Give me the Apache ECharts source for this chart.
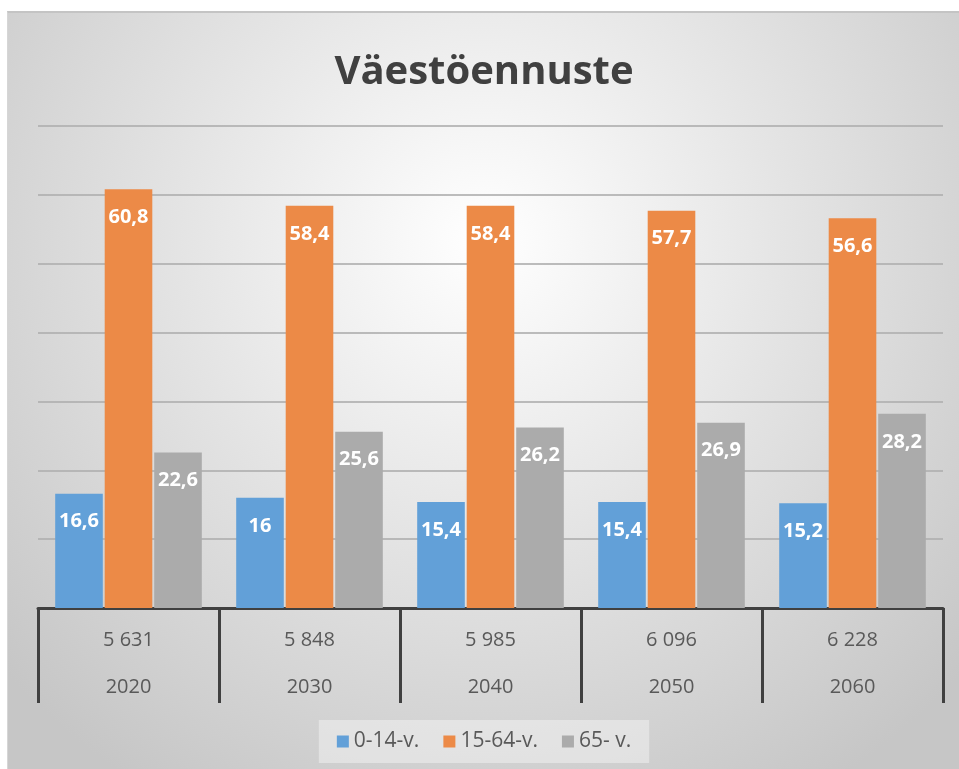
<!DOCTYPE html>
<html>
<head>
<meta charset="utf-8">
<script src="https://cdn.jsdelivr.net/npm/echarts@6/dist/echarts.min.js"></script>
<style>
  html, body { margin: 0; padding: 0; background: #fff; }
  #wrap { position: absolute; left: 7px; top: 11px; width: 952px; height: 758px;
          border-top: 2px solid #c4c4c4; border-left: 1px solid #d6d6d6; }
  #chart { width: 952px; height: 758px; }
</style>
</head>
<body>
<div id="wrap"><div id="chart"></div></div>
<script>
// population (thousands) shown on first axis row, years on second row
const populations = ['5 631', '5 848', '5 985', '6 096', '6 228'];
const years = ['2020', '2030', '2040', '2050', '2060'];
const seriesNames = ['0-14-v.', '15-64-v.', '65- v.'];
const age0to14 = [16.6, 16, 15.4, 15.4, 15.2];
const age15to64 = [60.8, 58.4, 58.4, 57.7, 56.6];
const age65plus = [22.6, 25.6, 26.2, 26.9, 28.2];
const colors = ['#62A0D8', '#EC8A47', '#ABABAB'];

const FONT = '"Open Sans", "Noto Sans", sans-serif';

function fmt(v) {
    return String(v).replace('.', ',');
}

function makeSeries(name, data, color) {
    return {
        name: name,
        type: 'bar',
        data: data,
        barGap: '4%',
        barCategoryGap: '19%',
        itemStyle: { color: color },
        label: {
            show: true,
            position: 'insideTop',
            distance: 18,
            color: '#fff',
            fontFamily: FONT,
            fontWeight: 'bold',
            fontSize: 20,
            formatter: function (p) { return fmt(p.value); }
        }
    };
}

let chart = echarts.init(document.getElementById('chart'));
let option = {
    backgroundColor: {
        type: 'radial', x: 0.5, y: 0.3, r: 0.85,
        colorStops: [
            { offset: 0, color: '#ffffff' },
            { offset: 1, color: '#c6c6c6' }
        ]
    },
    animation: false,
    color: colors,
    title: {
        text: 'Väestöennuste',
        left: 'center',
        top: 35,
        textStyle: { fontFamily: FONT, fontSize: 40, fontWeight: 'bold', color: '#404040' }
    },
    legend: {
        bottom: 8,
        left: 'center',
        itemWidth: 12,
        itemHeight: 12,
        itemGap: 24,
        padding: [11, 18, 11, 18],
        backgroundColor: 'rgba(240,240,240,0.55)',
        icon: 'rect',
        textStyle: { fontFamily: FONT, fontSize: 21, color: '#595959' },
        data: seriesNames
    },
    grid: { left: 30, right: 17, top: 113, bottom: 163 },
    xAxis: [
        {
            type: 'category',
            data: populations,
            position: 'bottom',
            axisLine: { show: true, lineStyle: { color: '#404040', width: 3 } },
            axisTick: { show: true, length: 95, lineStyle: { color: '#404040', width: 3 } },
            axisLabel: { margin: 22, fontFamily: FONT, fontSize: 20, color: '#595959' }
        },
        {
            type: 'category',
            data: years,
            position: 'bottom',
            offset: 47,
            axisLine: { show: false },
            axisTick: { show: false },
            axisLabel: { margin: 22, fontFamily: FONT, fontSize: 20, color: '#595959' }
        }
    ],
    yAxis: {
        type: 'value',
        min: 0,
        max: 70,
        interval: 10,
        axisLabel: { show: false },
        axisLine: { show: false },
        axisTick: { show: false },
        splitLine: { lineStyle: { color: '#b0b0b0', width: 2, opacity: 0.85 } }
    },
    series: [
        makeSeries(seriesNames[0], age0to14, colors[0]),
        makeSeries(seriesNames[1], age15to64, colors[1]),
        makeSeries(seriesNames[2], age65plus, colors[2])
    ]
};
chart.setOption(option);
</script>
</body>
</html>
